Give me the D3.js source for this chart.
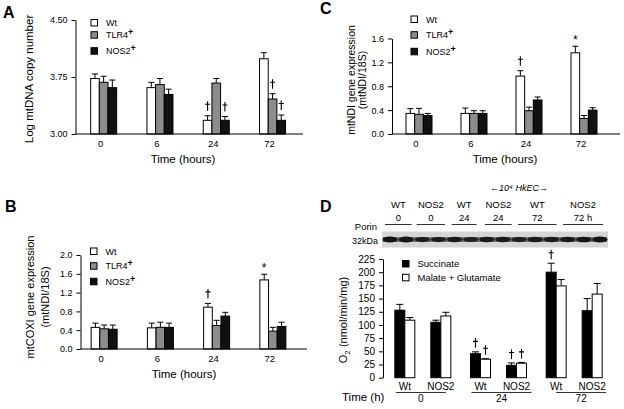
<!DOCTYPE html>
<html><head><meta charset="utf-8">
<script src="https://cdn.jsdelivr.net/npm/d3@7"></script>
<style>
body{margin:0;background:#fff}
svg{display:block}
text{font-family:"Liberation Sans",Arial,Helvetica,sans-serif;fill:#000}
</style>
</head><body>
<svg id="c" width="624" height="409"></svg>
<script>
// ---------------- DATA ----------------
const timesABC = ["0", "6", "24", "72"];
const genotypesABC = ["Wt", "TLR4", "NOS2"];

// Panel A: Log mtDNA copy number
const aWt = [3.73, 3.61, 3.18, 3.99];
const aWtSE = [0.06, 0.07, 0.06, 0.08];
const aTLR4 = [3.68, 3.65, 3.67, 3.46];
const aTLR4SE = [0.08, 0.08, 0.06, 0.07];
const aNOS2 = [3.61, 3.52, 3.18, 3.18];
const aNOS2SE = [0.10, 0.07, 0.05, 0.07];
const aTicks = [3.00, 3.75, 4.50];
const aMarks = [["24", "Wt", "†"], ["24", "NOS2", "†"], ["72", "TLR4", "†"], ["72", "NOS2", "†"]];

// Panel B: mtCOXI gene expression
const bWt = [0.46, 0.45, 0.89, 1.47];
const bWtSE = [0.09, 0.10, 0.08, 0.12];
const bTLR4 = [0.43, 0.46, 0.50, 0.38];
const bTLR4SE = [0.08, 0.11, 0.11, 0.08];
const bNOS2 = [0.42, 0.46, 0.70, 0.48];
const bNOS2SE = [0.09, 0.09, 0.08, 0.09];
const bTicks = [0.0, 0.4, 0.8, 1.2, 1.6, 2.0];
const bMarks = [["24", "Wt", "†"], ["72", "Wt", "*"]];

// Panel C: mtNDI gene expression
const cWt = [0.345, 0.345, 0.97, 1.36];
const cWtSE = [0.08, 0.09, 0.09, 0.11];
const cTLR4 = [0.33, 0.345, 0.39, 0.26];
const cTLR4SE = [0.10, 0.045, 0.06, 0.05];
const cNOS2 = [0.31, 0.345, 0.57, 0.40];
const cNOS2SE = [0.035, 0.045, 0.05, 0.04];
const cTicks = [0.0, 0.4, 0.8, 1.2, 1.6];
const cMarks = [["24", "Wt", "†"], ["72", "Wt", "*"]];

// Panel D: O2 consumption
const dTimes = ["0", "24", "72"];
const dGenotypes = ["Wt", "NOS2"];
const dSubstrates = ["Succinate", "Malate + Glutamate"];
const dSuccinate = [128, 105, 45.5, 23.5, 200, 127];     // order: 0Wt,0NOS2,24Wt,24NOS2,72Wt,72NOS2
const dSuccinateSE = [11, 4, 3.5, 4.5, 17, 23];
const dMalate = [109, 117, 35, 27.5, 174, 158.5];
const dMalateSE = [5, 7, 1, 1.5, 12, 20];
const dTicks = [0, 25, 50, 75, 100, 125, 150, 175, 200, 225];
const dMarks = [["24", "Wt", 0], ["24", "Wt", 1], ["24", "NOS2", 0], ["24", "NOS2", 1], ["72", "Wt", 0]];

// Western blot header
const blotConds = [["WT", "0"], ["NOS2", "0"], ["WT", "24"], ["NOS2", "24"], ["WT", "72"], ["NOS2", "72 h"]];
const blotBandStrength = [1.0, 0.95, 0.75, 0.75, 0.8, 0.7, 0.8, 0.8, 0.75, 0.8, 0.8, 0.85, 0.9, 1.0];

// ---------------- DRAWING ----------------
const svg = d3.select("#c");
const FONT = '"Liberation Sans", Arial, Helvetica, sans-serif';
const fills = {Wt: "#ffffff", TLR4: "#8c8c8c", NOS2: "#111111"};

function label(g, x, y, txt, size, opts = {}) {
  const t = g.append("text").attr("x", x).attr("y", y).attr("font-size", size)
    .attr("text-anchor", opts.anchor || "start");
  if (opts.weight) t.attr("font-weight", opts.weight);
  if (opts.style) t.attr("font-style", opts.style);
  if (opts.rotate) t.attr("transform", `rotate(-90,${x},${y})`);
  t.text(txt);
  return t;
}
// dagger drawn as a small cross; (x, y) = centre of the glyph
function dagger(g, x, y) {
  g.append("path")
    .attr("d", `M${x},${y - 4.5}V${y + 5}M${x - 2.5},${y - 1.5}H${x + 2.5}`)
    .attr("stroke", "#000").attr("stroke-width", 1.1).attr("fill", "none");
}

function drawGrouped(o) {
  const g = svg.append("g");
  const y = d3.scaleLinear().domain(o.yDomain).range(o.yRange);
  const x0 = d3.scalePoint().domain(timesABC).range(o.xRange).padding(0.5);
  const x1 = d3.scaleBand().domain(genotypesABC).range([-13, 13]);
  const bw = x1.bandwidth();
  const base = y(o.yDomain[0]);
  const rows = [];
  genotypesABC.forEach((gen, gi) => timesABC.forEach((t, ti) =>
    rows.push({gen, t, v: o.means[gi][ti], e: o.ses[gi][ti]})));
  const cx = d => x0(d.t) + x1(d.gen) + bw / 2;

  g.selectAll("line.ev").data(rows).join("line").attr("class", "ev")
    .attr("x1", cx).attr("x2", cx).attr("y1", d => y(d.v)).attr("y2", d => y(d.v + d.e))
    .attr("stroke", "#000").attr("stroke-width", 1);
  g.selectAll("line.ec").data(rows).join("line").attr("class", "ec")
    .attr("x1", d => cx(d) - 3).attr("x2", d => cx(d) + 3)
    .attr("y1", d => y(d.v + d.e)).attr("y2", d => y(d.v + d.e))
    .attr("stroke", "#000").attr("stroke-width", 1);
  g.selectAll("rect.bar").data(rows).join("rect").attr("class", "bar")
    .attr("x", d => x0(d.t) + x1(d.gen)).attr("width", bw)
    .attr("y", d => y(d.v)).attr("height", d => base - y(d.v))
    .attr("fill", d => fills[d.gen]).attr("stroke", "#000").attr("stroke-width", 1);

  const ax = g.append("g").attr("transform", `translate(${o.axisX},0)`)
    .call(d3.axisLeft(y).tickValues(o.ticks).tickFormat(d3.format(o.fmt)).tickSize(4).tickSizeOuter(0).tickPadding(4));
  ax.attr("font-family", FONT).attr("font-size", 9);
  g.append("line").attr("x1", o.axisX).attr("x2", o.axisEnd).attr("y1", base).attr("y2", base)
    .attr("stroke", "#000").attr("stroke-width", 1);
  g.selectAll("text.xt").data(timesABC).join("text").attr("class", "xt")
    .attr("x", d => x0(d) - 3).attr("y", base + 13).attr("text-anchor", "middle")
    .attr("font-size", 9.5).text(d => d);
  label(g, o.titleX, base + 29, "Time (hours)", 11.5, {anchor: "middle"});

  o.marks.forEach(([t, gen, sym]) => {
    const gi = genotypesABC.indexOf(gen), ti = timesABC.indexOf(t);
    const top = y(o.means[gi][ti] + o.ses[gi][ti]);
    const d = {t, gen};
    if (sym === "*") label(g, cx(d), top - 2.5, "*", 12, {anchor: "middle"});
    else dagger(g, cx(d), top - 10);
  });

  genotypesABC.forEach((gen, i) => {
    const ty = o.legendY[i];
    g.append("rect").attr("x", o.legendX).attr("y", ty).attr("width", 6.5).attr("height", 6.5)
      .attr("fill", fills[gen]).attr("stroke", "#000").attr("stroke-width", 1);
    const t = g.append("text").attr("x", o.legendX + 15).attr("y", ty + 6.5).attr("font-size", 9);
    t.append("tspan").text(gen);
    if (gen !== "Wt") t.append("tspan").attr("dy", -3).attr("font-size", 9).attr("font-weight", "bold").text("+");
  });

  o.ylabels.forEach(([lx, txt]) => label(g, lx, o.ylabelY, txt, o.ylabelSize, {anchor: "middle", rotate: true}));
  label(g, o.letterX, o.letterY, o.letter, 16, {weight: "bold"});
}

drawGrouped({
  means: [aWt, aTLR4, aNOS2], ses: [aWtSE, aTLR4SE, aNOS2SE],
  yDomain: [3.0, 4.5], yRange: [134, 20], xRange: [75.5, 300.7],
  axisX: 75.5, axisEnd: 303, ticks: aTicks, fmt: ".2f", marks: aMarks,
  legendX: 91, legendY: [19.5, 31.7, 47.7], titleX: 183,
  ylabels: [[33, "Log mtDNA copy number"]], ylabelY: 79, ylabelSize: 11.5,
  letter: "A", letterX: 3, letterY: 18
});
drawGrouped({
  means: [bWt, bTLR4, bNOS2], ses: [bWtSE, bTLR4SE, bNOS2SE],
  yDomain: [0, 2.0], yRange: [349, 255], xRange: [76, 301],
  axisX: 80.5, axisEnd: 307, ticks: bTicks, fmt: ".1f", marks: bMarks,
  legendX: 90.5, legendY: [248, 262.7, 278.3], titleX: 184,
  ylabels: [[34, "mtCOXI gene expression"], [49, "(mtNDI/18S)"]], ylabelY: 297, ylabelSize: 11,
  letter: "B", letterX: 5, letterY: 212
});
drawGrouped({
  means: [cWt, cTLR4, cNOS2], ses: [cWtSE, cTLR4SE, cNOS2SE],
  yDomain: [0, 1.6], yRange: [134, 38.5], xRange: [391.5, 611.5],
  axisX: 392, axisEnd: 620, ticks: cTicks, fmt: ".1f", marks: cMarks,
  legendX: 411, legendY: [16, 31.7, 48.3], titleX: 505,
  ylabels: [[355, "mtNDI gene expression"], [366, "(mtNDI/18S)"]], ylabelY: 80, ylabelSize: 10.5,
  letter: "C", letterX: 320, letterY: 14
});

// ---------------- PANEL D ----------------
(function () {
  const g = svg.append("g");
  const y = d3.scaleLinear().domain([0, 225]).range([377.7, 259]);
  const x0 = d3.scaleBand().domain(dTimes).range([385, 612]);
  const x1 = d3.scaleBand().domain(dGenotypes).range([-36, 36]);
  const barW = 10;
  const rows = [];
  dTimes.forEach((t, ti) => dGenotypes.forEach((gen, gi) => {
    const k = ti * 2 + gi;
    const c = x0(t) + x0.bandwidth() / 2 + x1(gen) + x1.bandwidth() / 2;
    rows.push({t, gen, s: 0, c, x: c - barW, v: dSuccinate[k], e: dSuccinateSE[k]});
    rows.push({t, gen, s: 1, c, x: c, v: dMalate[k], e: dMalateSE[k]});
  }));
  const base = y(0);
  const bx = d => d.x + barW / 2;
  g.selectAll("line.ev").data(rows).join("line").attr("class", "ev")
    .attr("x1", bx).attr("x2", bx).attr("y1", d => y(d.v)).attr("y2", d => y(d.v + d.e))
    .attr("stroke", "#000").attr("stroke-width", 1);
  g.selectAll("line.ec").data(rows).join("line").attr("class", "ec")
    .attr("x1", d => bx(d) - 3.5).attr("x2", d => bx(d) + 3.5)
    .attr("y1", d => y(d.v + d.e)).attr("y2", d => y(d.v + d.e))
    .attr("stroke", "#000").attr("stroke-width", 1);
  g.selectAll("rect.bar").data(rows).join("rect").attr("class", "bar")
    .attr("x", d => d.x).attr("width", barW).attr("y", d => y(d.v)).attr("height", d => base - y(d.v))
    .attr("fill", d => d.s === 0 ? "#000" : "#fff").attr("stroke", "#000").attr("stroke-width", 1);

  const ax = g.append("g").attr("transform", "translate(383,0)")
    .call(d3.axisLeft(y).tickValues(dTicks).tickSize(4).tickSizeOuter(0).tickPadding(4));
  ax.attr("font-family", FONT).attr("font-size", 10);

  dMarks.forEach(([t, gen, s]) => {
    const d = rows.find(r => r.t === t && r.gen === gen && r.s === s);
    dagger(g, bx(d), y(d.v + d.e) - 9);
  });

  const cats = rows.filter(r => r.s === 0);
  g.selectAll("text.cat").data(cats).join("text").attr("class", "cat")
    .attr("x", d => d.c).attr("y", 389.5).attr("text-anchor", "middle").attr("font-size", 10)
    .text(d => d.gen);
  label(g, 342, 401, "Time (h)", 11.5);
  const lineShift = [-2, 3, 7], lineHalf = [25, 30, 25];
  dTimes.forEach((t, i) => {
    const c = x0(t) + x0.bandwidth() / 2 + lineShift[i];
    g.append("line").attr("x1", c - lineHalf[i]).attr("x2", c + lineHalf[i]).attr("y1", 392.5).attr("y2", 392.5)
      .attr("stroke", "#000").attr("stroke-width", 0.8);
    label(g, c, 401.5, t, 10, {anchor: "middle"});
  });

  dSubstrates.forEach((s, i) => {
    const ty = [260.5, 274.3][i];
    g.append("rect").attr("x", 402.5).attr("y", ty).attr("width", 6.5).attr("height", 6.5)
      .attr("fill", i === 0 ? "#000" : "#fff").attr("stroke", "#000").attr("stroke-width", 1);
    label(g, 417.5, ty + 6.5, s, 9.5);
  });

  const yl = g.append("text").attr("x", 347).attr("y", 320).attr("font-size", 11)
    .attr("text-anchor", "middle").attr("transform", "rotate(-90,347,320)");
  yl.append("tspan").text("O");
  yl.append("tspan").attr("dy", 2.5).attr("font-size", 8).text("2");
  yl.append("tspan").attr("dy", -2.5).text(" (nmol/min/mg)");

  label(g, 320, 212, "D", 16, {weight: "bold"});

  // ---- western blot header ----
  label(g, 519, 191, "←10⁴ HkEC→", 9, {anchor: "middle", style: "italic"});
  const segs = [[385, 411.7], [416.7, 445], [451.7, 476.7], [485, 511.7], [518, 556.7], [563, 603]];
  blotConds.forEach(([a, b], i) => {
    const [s0, s1] = segs[i];
    const c = (s0 + s1) / 2;
    label(g, c, 208, a, 9.5, {anchor: "middle"});
    label(g, c, 221, b, 9.5, {anchor: "middle"});
    g.append("line").attr("x1", s0).attr("x2", s1).attr("y1", 224.5).attr("y2", 224.5)
      .attr("stroke", "#000").attr("stroke-width", 0.8);
  });
  label(g, 377, 229.5, "Porin", 9.5, {anchor: "end"});
  label(g, 378, 243.5, "32kDa", 9, {anchor: "end"});
  g.append("rect").attr("x", 382).attr("y", 231.5).attr("width", 226).attr("height", 16).attr("fill", "#d6d6d6");
  g.append("rect").attr("x", 383).attr("y", 237).attr("width", 224).attr("height", 5).attr("fill", "#6e6e6e");
  const nL = blotBandStrength.length;
  const laneW = 226 / nL;
  blotBandStrength.forEach((s, i) => {
    const c = 382 + laneW * (i + 0.5);
    g.append("ellipse").attr("cx", c).attr("cy", 239.5).attr("rx", laneW / 2 - 0.4).attr("ry", 1.5 + 1.5 * s)
      .attr("fill", "#141414").attr("opacity", 0.6 + 0.4 * s);
  });
})();
</script>
</body></html>
